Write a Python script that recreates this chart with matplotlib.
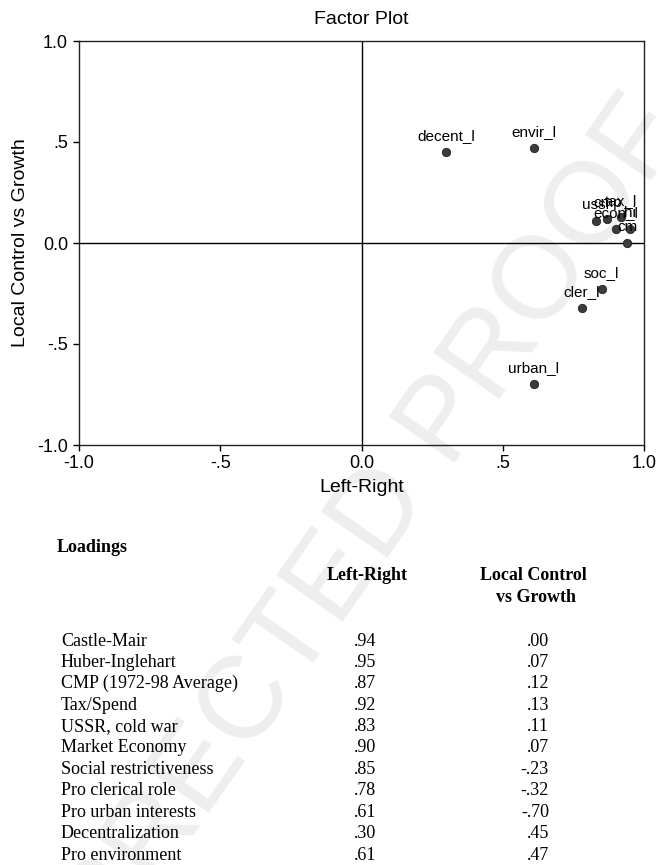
import matplotlib
matplotlib.use("Agg")
import matplotlib.pyplot as plt

# ---------------- data ----------------
variables = ["Castle-Mair", "Huber-Inglehart", "CMP (1972-98 Average)", "Tax/Spend",
             "USSR, cold war", "Market Economy", "Social restrictiveness",
             "Pro clerical role", "Pro urban interests", "Decentralization",
             "Pro environment"]
point_labels = ["cm", "hi", "cmp", "tax_l", "ussr", "econ_l", "soc_l",
                "cler_l", "urban_l", "decent_l", "envir_l"]
left_right = [0.94, 0.95, 0.87, 0.92, 0.83, 0.90, 0.85, 0.78, 0.61, 0.30, 0.61]
local_growth = [0.00, 0.07, 0.12, 0.13, 0.11, 0.07, -0.23, -0.32, -0.70, 0.45, 0.47]
tick_values = [-1.0, -0.5, 0.0, 0.5, 1.0]
tick_labels = ["-1.0", "-.5", "0.0", ".5", "1.0"]

W, H = 658, 865
fig = plt.figure(figsize=(W / 100, H / 100), dpi=100)

def fx(px):
    return px / W

def fy(py):
    return 1 - py / H

SANS = "Liberation Sans"
SERIF = "Liberation Serif"

# watermark
fig.text(fx(322), fy(598), "CORRECTED PROOF", fontsize=84, family=SANS,
         color="#eeeeee", rotation=55, rotation_mode="anchor",
         ha="center", va="center", zorder=-5)

ax = fig.add_axes([fx(79), fy(445), fx(644) - fx(79), fy(41) - fy(445)])
ax.set_facecolor("none")
ax.set_xlim(-1, 1)
ax.set_ylim(-1, 1)
ax.axhline(0, color="black", lw=1.0, zorder=1)
ax.axvline(0, color="black", lw=1.0, zorder=1)

ax.plot(left_right, local_growth, linestyle="none", marker="o", markersize=6,
        markerfacecolor="#3c3c3c", markeredgecolor="#222222", markeredgewidth=0.6,
        zorder=3)
for lbl, x, y in zip(point_labels, left_right, local_growth):
    ax.annotate(lbl, (x, y), xytext=(0, 16), textcoords="offset pixels",
                ha="center", va="center", fontsize=11, family=SANS, zorder=4)

ax.set_xticks(tick_values)
ax.set_xticklabels(tick_labels)
ax.set_yticks(tick_values)
ax.set_yticklabels(tick_labels)
ax.tick_params(direction="out", length=4, width=1, labelsize=13, color="black")
ax.tick_params(axis="x", pad=3)
ax.tick_params(axis="y", pad=4)
for lab in ax.get_xticklabels() + ax.get_yticklabels():
    lab.set_family(SANS)
for s in ax.spines.values():
    s.set_linewidth(1.0)
    s.set_color("#222222")

ax.set_xlabel("Left-Right", fontsize=14, family=SANS)
ax.set_ylabel("Local Control vs Growth", fontsize=14, family=SANS)
ax.xaxis.set_label_coords(0.5, (445 - 479) / 404)
ax.yaxis.set_label_coords((29 - 79) / 565, 0.5)

fig.text(fx(361), fy(19), "Factor Plot", fontsize=14, family=SANS,
         ha="center", va="center")

# ---------------- table ----------------
fig.text(fx(57), fy(547), "Loadings", fontsize=13, family=SERIF,
         weight="bold", ha="left", va="center")
fig.text(fx(367), fy(575), "Left-Right", fontsize=13, family=SERIF,
         weight="bold", ha="center", va="center")
fig.text(fx(533), fy(575), "Local Control", fontsize=13, family=SERIF,
         weight="bold", ha="center", va="center")
fig.text(fx(536), fy(598), "vs Growth", fontsize=13, family=SERIF,
         weight="bold", ha="center", va="center")

def fmt(v):
    s = f"{v:.2f}"
    return s.replace("0.", ".", 1)

for i, (name, a, b) in enumerate(zip(variables, left_right, local_growth)):
    y = 641 + i * 21.4
    fig.text(fx(61), fy(y), name, fontsize=13, family=SERIF, ha="left", va="center")
    fig.text(fx(365), fy(y), fmt(a), fontsize=13, family=SERIF, ha="center", va="center")
    fig.text(fx(549), fy(y), fmt(b), fontsize=13, family=SERIF, ha="right", va="center")

fig.savefig("out.png", dpi=100)
